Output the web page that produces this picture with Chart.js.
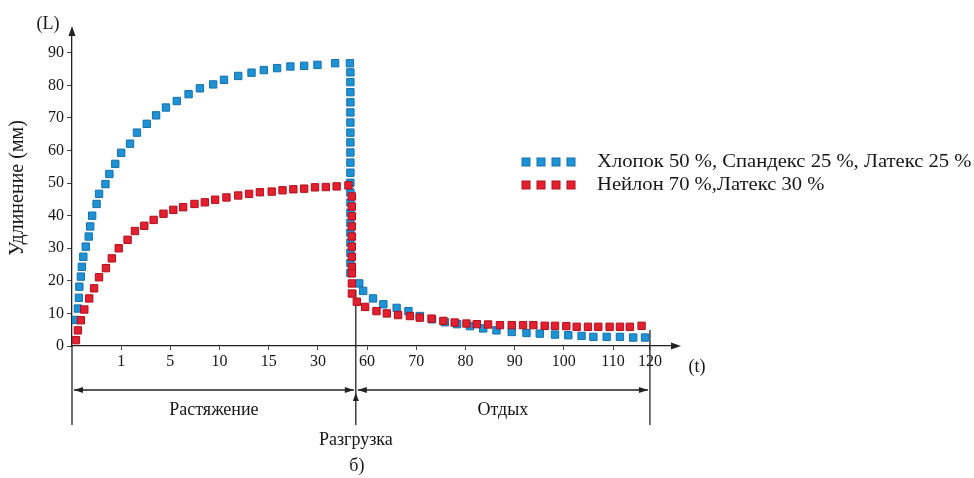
<!DOCTYPE html>
<html>
<head>
<meta charset="utf-8">
<style>
  html, body { margin: 0; padding: 0; background: #fff; }
  #wrap { width: 974px; height: 478px; }
</style>
</head>
<body>
<div id="wrap"><canvas id="chart" width="974" height="478"></canvas></div>
<script src="https://cdn.jsdelivr.net/npm/chart.js@4.4.1/dist/chart.umd.min.js"></script>
<script>
  // x is in axis divisions: the time axis is not linear (1,5,10,15,30 | 60..120)
  const xTickPos = [1, 2, 3, 4, 5, 6, 7, 8, 9, 10, 11, 11.75]
  const xTickLabels = ['1', '5', '10', '15', '30', '60', '70', '80', '90', '100', '110', '120']
  const yTicks = [0, 10, 20, 30, 40, 50, 60, 70, 80, 90]
  const unloadAt = 5.77
  const endAt = 11.75

  const blueLabel = 'Хлопок 50 %, Спандекс 25 %, Латекс 25 %'
  const blueX = [0.07, 0.12, 0.14, 0.15, 0.18, 0.20, 0.23, 0.28, 0.34, 0.37, 0.41, 0.50, 0.55, 0.68, 0.76, 0.88,
    1.00, 1.18, 1.32, 1.52, 1.71, 1.91, 2.13, 2.37, 2.60, 2.87, 3.09, 3.38, 3.65, 3.90, 4.17, 4.44, 4.72, 4.99, 5.35, 5.65,
    5.66, 5.66, 5.66, 5.66, 5.66, 5.66, 5.66, 5.66, 5.66, 5.66, 5.66, 5.66, 5.66, 5.66, 5.66, 5.66, 5.66, 5.66, 5.66, 5.66, 5.66,
    5.84, 5.92, 6.12, 6.33, 6.60, 6.84, 7.07, 7.32, 7.58, 7.83, 8.09, 8.36, 8.63, 8.94, 9.24, 9.51, 9.82, 10.09, 10.36,
    10.60, 10.87, 11.14, 11.41, 11.65]
  const blueY = [8.0, 11.5, 14.8, 18.2, 21.3, 24.3, 27.4, 30.5, 33.6, 36.7, 40.0, 43.6, 46.7, 49.7, 52.8, 55.9,
    59.3, 62.1, 65.5, 68.2, 70.8, 73.2, 75.2, 77.3, 79.1, 80.3, 81.7, 82.9, 83.9, 84.7, 85.3, 85.8, 86.0, 86.3, 86.8, 86.8,
    84.0, 81.0, 77.9, 74.8, 71.7, 68.6, 65.5, 62.5, 59.4, 56.3, 53.2, 50.1, 47.1, 44.0, 40.9, 37.8, 34.8, 31.7, 28.6, 25.5, 22.4,
    19.2, 16.9, 14.6, 12.8, 11.7, 10.7, 9.2, 8.2, 7.3, 6.7, 6.1, 5.4, 4.8, 4.3, 4.0, 3.8, 3.5, 3.3, 3.1,
    2.8, 2.8, 2.8, 2.6, 2.6]

  const redLabel = 'Нейлон 70 %,Латекс 30 %'
  const redX = [0.08, 0.12, 0.18, 0.25, 0.35, 0.45, 0.55, 0.69, 0.81, 0.95, 1.13, 1.28, 1.47, 1.66, 1.86, 2.06,
    2.26, 2.49, 2.70, 2.91, 3.14, 3.38, 3.60, 3.82, 4.06, 4.28, 4.50, 4.72, 4.94, 5.16, 5.38, 5.62,
    5.69, 5.69, 5.69, 5.69, 5.69, 5.69, 5.69, 5.69, 5.69, 5.69, 5.69,
    5.79, 5.96, 6.19, 6.40, 6.63, 6.87, 7.07, 7.31, 7.55, 7.78, 8.02, 8.23, 8.46, 8.70, 8.94, 9.17, 9.38, 9.61, 9.82,
    10.05, 10.26, 10.49, 10.70, 10.93, 11.14, 11.34, 11.58]
  const redY = [1.8, 4.8, 7.9, 11.2, 14.6, 17.7, 21.1, 23.9, 26.9, 30.0, 32.6, 35.3, 36.9, 38.7, 40.6, 41.8,
    42.6, 43.6, 44.1, 44.9, 45.6, 46.2, 46.7, 47.2, 47.4, 47.8, 48.1, 48.3, 48.7, 48.8, 49.0, 49.3,
    45.9, 42.8, 39.8, 36.7, 33.6, 30.5, 27.4, 24.3, 22.3, 19.2, 16.1,
    13.6, 12.0, 10.7, 10.0, 9.5, 9.2, 8.7, 8.4, 7.7, 7.2, 6.9, 6.7, 6.6, 6.4, 6.4, 6.4, 6.4, 6.2, 6.2,
    6.1, 5.9, 5.9, 5.9, 5.9, 5.9, 5.9, 6.2]

  const serif = "'Liberation Serif', 'DejaVu Serif', serif"
  const ink = '#161616'

  const pts = (xs, ys) => xs.map((x, i) => ({ x: x, y: ys[i] }))

  function arrowHead(ctx, x, y, dir, len, half) {
    ctx.beginPath()
    ctx.moveTo(x, y)
    if (dir === 'up') { ctx.lineTo(x - half, y + len); ctx.lineTo(x + half, y + len) }
    if (dir === 'right') { ctx.lineTo(x - len, y - half); ctx.lineTo(x - len, y + half) }
    if (dir === 'left') { ctx.lineTo(x + len, y - half); ctx.lineTo(x + len, y + half) }
    ctx.closePath()
    ctx.fill()
  }

  function seg(ctx, x1, y1, x2, y2) {
    ctx.beginPath()
    ctx.moveTo(x1, y1)
    ctx.lineTo(x2, y2)
    ctx.stroke()
  }

  const extras = {
    id: 'extras',
    beforeDatasetsDraw(chart) {
      const ctx = chart.ctx
      const x = chart.scales.x
      const xu = x.getPixelForValue(unloadAt)
      const xe = x.getPixelForValue(endAt)
      ctx.save()
      ctx.strokeStyle = '#222'
      ctx.lineWidth = 1.3
      seg(ctx, xu, 290, xu, 425)
      seg(ctx, xe, 330, xe, 425)
      ctx.restore()
    },
    afterDraw(chart) {
      const ctx = chart.ctx
      const { x, y } = chart.scales
      const area = chart.chartArea
      const xu = x.getPixelForValue(unloadAt)
      const xe = x.getPixelForValue(endAt)
      ctx.save()
      ctx.strokeStyle = '#222'
      ctx.fillStyle = '#222'
      ctx.lineWidth = 1.3
      // axis arrows and the y axis running on below the origin
      seg(ctx, area.left, area.bottom, area.left, 425)
      arrowHead(ctx, area.left, area.top - 4, 'up', 10, 3.5)
      arrowHead(ctx, area.right + 4, area.bottom, 'right', 10, 3.5)

      // phase arrows
      const ay = 390
      seg(ctx, area.left + 2, ay, xu - 2, ay)
      seg(ctx, xu + 2, ay, xe - 2, ay)
      arrowHead(ctx, area.left + 2, ay, 'left', 9, 3)
      arrowHead(ctx, xu - 2, ay, 'right', 9, 3)
      arrowHead(ctx, xu + 2, ay, 'left', 9, 3)
      arrowHead(ctx, xe - 2, ay, 'right', 9, 3)
      arrowHead(ctx, xu, 393, 'up', 8, 3)

      ctx.fillStyle = ink
      ctx.textAlign = 'center'
      ctx.textBaseline = 'middle'
      ctx.font = '18px ' + serif
      ctx.fillText('(L)', 48, 24)
      ctx.fillText('(t)', 697, 367)
      ctx.fillText('Растяжение', (area.left + xu) / 2, 410)
      ctx.fillText('Отдых', (xu + xe) / 2, 410)
      ctx.fillText('Разгрузка', xu, 440)
      ctx.fillText('б)', xu + 1, 466)

      // legend: four squares then the label (the source picture is a bit stretched sideways)
      const rows = [162, 185]
      const items = [chart.data.datasets[0], chart.data.datasets[1]]
      ctx.textAlign = 'left'
      ctx.font = '19px ' + serif
      items.forEach((ds, i) => {
        const ry = rows[i]
        for (let k = 0; k < 4; k++) {
          ctx.fillStyle = ds.backgroundColor
          ctx.strokeStyle = ds.borderColor
          ctx.lineWidth = 1
          ctx.fillRect(522 + k * 15, ry - 4, 8, 8)
          ctx.strokeRect(522 + k * 15, ry - 4, 8, 8)
        }
        ctx.fillStyle = ink
        ctx.save()
        ctx.translate(597, ry)
        ctx.scale(1.085, 1)
        ctx.fillText(ds.label, 0, 0)
        ctx.restore()
      })
      ctx.restore()
    }
  }

  const ctx = document.getElementById('chart').getContext('2d')
  const chart = new Chart(ctx, {
    type: 'scatter',
    data: {
      datasets: [{
        label: blueLabel,
        data: pts(blueX, blueY),
        backgroundColor: '#1d93d6',
        borderColor: '#1670aa',
        borderWidth: 1,
        pointStyle: 'rect',
        pointRadius: 5.2,
        showLine: false,
        order: 2
      }, {
        label: redLabel,
        data: pts(redX, redY),
        backgroundColor: '#e3202f',
        borderColor: '#b0101c',
        borderWidth: 1,
        pointStyle: 'rect',
        pointRadius: 5.2,
        showLine: false,
        order: 1
      }]
    },
    options: {
      responsive: false,
      animation: false,
      layout: { padding: { top: 30, right: 297, left: 0, bottom: 0 } },
      plugins: { legend: { display: false }, tooltip: { enabled: false } },
      scales: {
        x: {
          type: 'linear',
          min: 0,
          max: 12.3,
          afterFit: s => { s.height = 132 },
          afterBuildTicks: s => { s.ticks = xTickPos.map(v => ({ value: v })) },
          border: { display: true, color: '#222', width: 1.3 },
          grid: { drawOnChartArea: false, drawTicks: true, tickLength: 4, color: '#444' },
          ticks: {
            autoSkip: false,
            maxRotation: 0,
            padding: 2,
            color: ink,
            font: { family: serif, size: 16 },
            callback: v => xTickLabels[xTickPos.indexOf(v)]
          }
        },
        y: {
          min: 0,
          max: 97,
          afterFit: s => { s.width = 72 },
          afterBuildTicks: s => { s.ticks = yTicks.map(v => ({ value: v })) },
          border: { display: true, color: '#222', width: 1.3 },
          grid: { drawOnChartArea: false, drawTicks: true, tickLength: 5, color: '#444' },
          ticks: { padding: 3, color: ink, font: { family: serif, size: 16 } },
          title: {
            display: true,
            text: 'Удлинение (мм)',
            color: ink,
            font: { family: serif, size: 20 },
            padding: { top: 6, bottom: 0 }
          }
        }
      }
    },
    plugins: [extras]
  })
</script>
</body>
</html>
